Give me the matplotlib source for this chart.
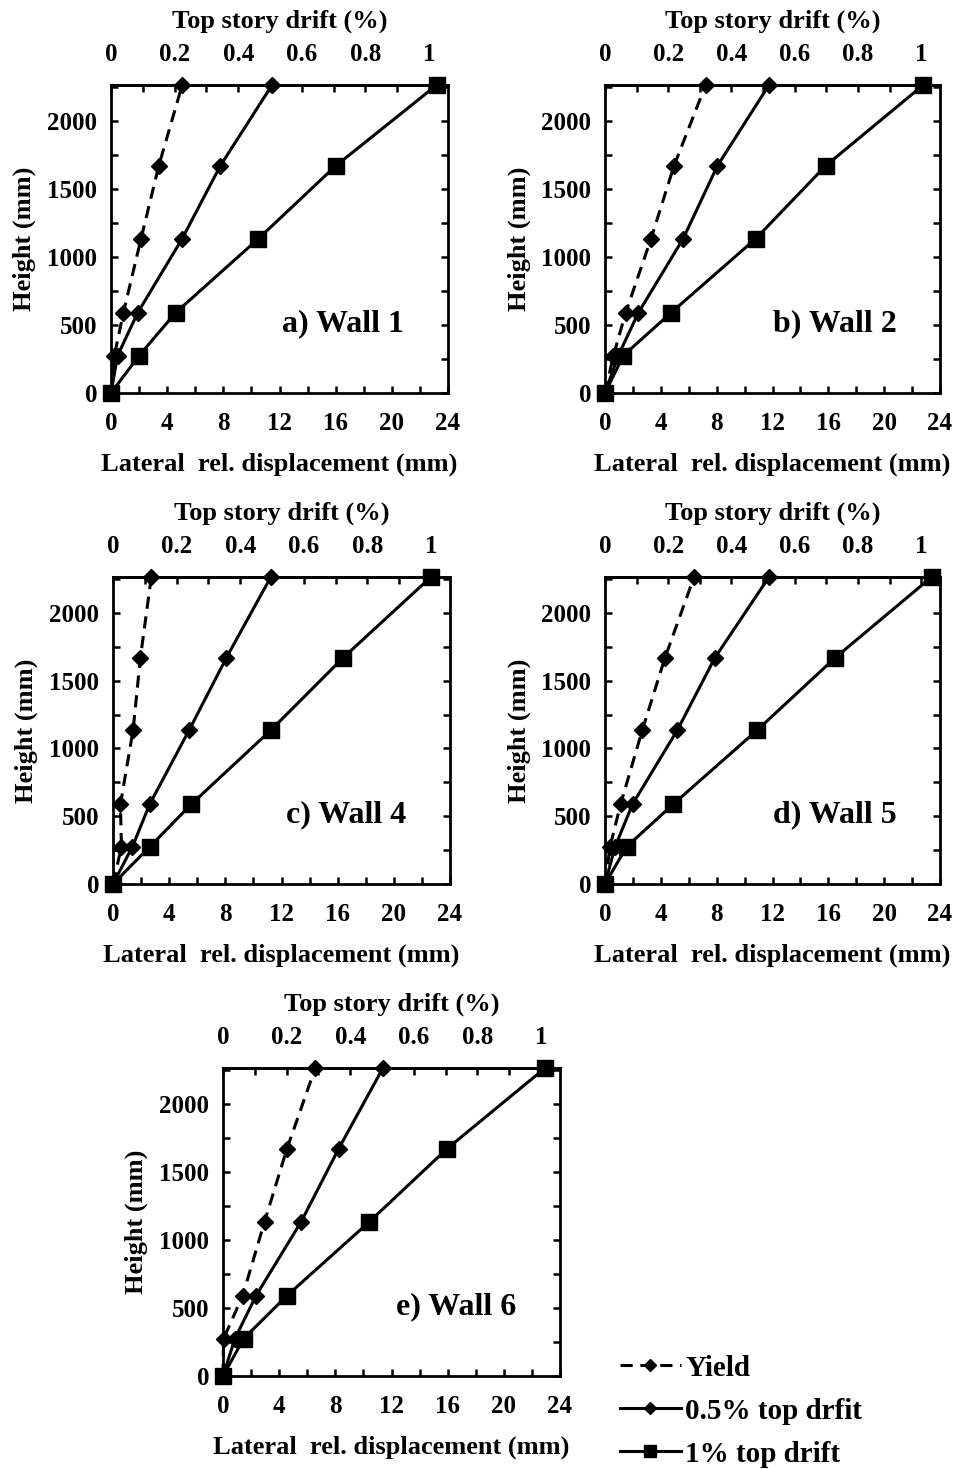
import matplotlib
matplotlib.use("Agg")
import matplotlib.pyplot as plt
from matplotlib.ticker import MultipleLocator, FixedLocator, FuncFormatter

plt.rcParams["font.family"] = ["Liberation Serif", "DejaVu Serif"]
plt.rcParams["font.weight"] = "bold"
plt.rcParams["axes.labelweight"] = "bold"

# wall height levels (mm)
heights = [0, 275, 590, 1135, 1670, 2265]
H_TOP = 2265

# lateral relative displacement (mm) at each level
walls = ["a) Wall 1", "b) Wall 2", "c) Wall 4", "d) Wall 5", "e) Wall 6"]
yield_disp = [
    [0, 0.24, 0.88, 2.14, 3.4, 5.07],
    [0, 0.6, 1.48, 3.3, 4.94, 7.21],
    [0, 0.6, 0.53, 1.43, 1.95, 2.73],
    [0, 0.36, 1.12, 2.67, 4.3, 6.38],
    [0, 0.04, 1.4, 2.96, 4.55, 6.57],
]
half_pct_disp = [
    [0, 0.47, 1.9, 5.07, 7.78, 11.47],
    [0, 0.95, 2.39, 5.6, 8.05, 11.75],
    [0, 1.38, 2.62, 5.42, 8.08, 11.24],
    [0, 0.72, 1.98, 5.18, 7.88, 11.75],
    [0, 0.85, 2.35, 5.57, 8.23, 11.39],
]
one_pct_disp = [
    [0, 2.0, 4.6, 10.5, 16.0, 23.2],
    [0, 1.31, 4.73, 10.8, 15.8, 22.8],
    [0, 2.62, 5.59, 11.24, 16.4, 22.64],
    [0, 1.55, 4.9, 10.9, 16.5, 23.4],
    [0, 1.47, 4.55, 10.43, 15.94, 22.94],
]
drift_ticks = [0, 0.2, 0.4, 0.6, 0.8, 1.0]

W, Hpx = 958, 1469
# axes boxes in pixels: left, top, right, bottom
boxes = [
    (111, 85, 448, 393),
    (605, 85, 940, 393),
    (113, 577, 450, 884),
    (605, 577, 940, 884),
    (223, 1068, 560, 1376),
]

fig = plt.figure(figsize=(W / 100, Hpx / 100), dpi=100)

lw = 2.2
for i, (l, t, r, b) in enumerate(boxes):
    ax = fig.add_axes([l / W, 1 - b / Hpx, (r - l) / W, (b - t) / Hpx])
    ax.plot(yield_disp[i], heights, color="black", lw=lw, ls=(0, (4, 2.5)),
            marker="D", ms=8.5, clip_on=False, zorder=3, label="Yield")
    ax.plot(half_pct_disp[i], heights, color="black", lw=lw, ls="-",
            marker="D", ms=8.5, clip_on=False, zorder=3, label="0.5% top drfit")
    ax.plot(one_pct_disp[i], heights, color="black", lw=lw, ls="-",
            marker="s", ms=12, clip_on=False, zorder=3, label="1% top drift")
    ax.set_xlim(0, 24)
    ax.set_ylim(0, H_TOP)
    ax.xaxis.set_major_locator(MultipleLocator(4))
    ax.xaxis.set_minor_locator(MultipleLocator(2))
    ax.yaxis.set_major_locator(MultipleLocator(500))
    ax.yaxis.set_minor_locator(MultipleLocator(250))
    ax.tick_params(which="both", direction="in", length=5, width=1.8,
                   right=True, labelsize=18)
    ax.tick_params(axis="x", pad=14)
    ax.tick_params(axis="y", pad=10)
    for s in ax.spines.values():
        s.set_linewidth(2)
    ax.set_xlabel("Lateral  rel. displacement (mm)", fontsize=19, labelpad=12)
    ax.set_ylabel("Height (mm)", fontsize=19)
    ax.yaxis.set_label_coords(-0.222, 0.5)
    ax.text(0.87, 0.225, walls[i], transform=ax.transAxes, ha="right",
            va="center", fontsize=23)

    sec = ax.secondary_xaxis("top", functions=(lambda x: x / H_TOP * 100,
                                               lambda d: d * H_TOP / 100))
    sec.xaxis.set_major_locator(FixedLocator(drift_ticks))
    sec.xaxis.set_minor_locator(MultipleLocator(0.1))
    sec.xaxis.set_major_formatter(FuncFormatter(lambda v, p: "%g" % round(v, 2)))
    sec.tick_params(which="both", direction="in", length=5, width=1.8,
                    labelsize=18, pad=14)
    sec.set_xlabel("Top story drift (%)", fontsize=19, labelpad=11)
    sec.spines["top"].set_linewidth(2)

    if i == 4:
        handles, labels = ax.get_legend_handles_labels()

fig.legend(handles, labels, loc="upper left",
           bbox_to_anchor=(605 / W, 1 - 1340 / Hpx), frameon=False,
           fontsize=21, handlelength=2.1, handletextpad=0.15,
           labelspacing=0.55, borderpad=0, markerscale=0.75)

fig.savefig("out.png", dpi=100)
